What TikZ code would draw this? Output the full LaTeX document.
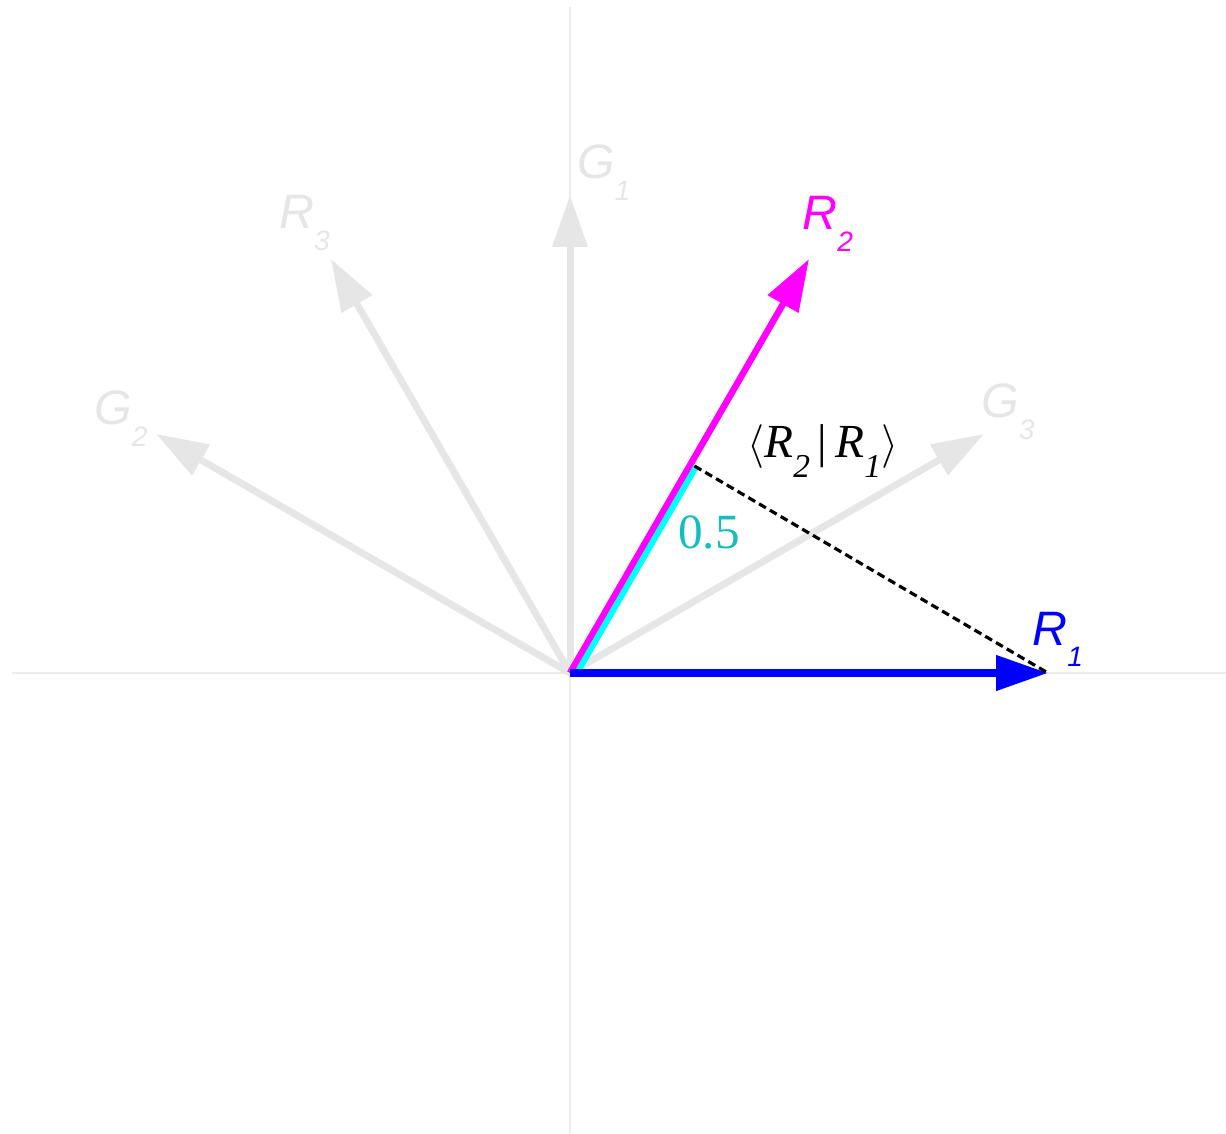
\documentclass[tikz,border=0pt]{standalone}
\usepackage{fontspec}
\setmainfont{Liberation Serif}
\newfontfamily\vecfont{Liberation Sans}
\usepackage{tikz}
\usetikzlibrary{arrows.meta,positioning,calc}

\definecolor{vgray}{RGB}{230,230,230}
\definecolor{axgray}{RGB}{236,236,236}
\definecolor{halfcol}{RGB}{20,190,190}
\definecolor{vmag}{RGB}{255,0,255}
\definecolor{vcyan}{RGB}{0,255,255}
\definecolor{vblue}{RGB}{0,0,255}

% vector label: italic letter with a low subscript
\newcommand{\veclab}[2]{{\vecfont\itshape\fontsize{27.5}{30}\selectfont #1\raisebox{-12pt}{\fontsize{16}{16}\selectfont #2}}}
\newcommand{\innersub}[1]{\raisebox{-11pt}{\fontsize{19}{19}\selectfont\itshape #1}}

\tikzset{
  vec/.style={line width=0.14cm,-{Triangle[length=1.04cm,width=0.68cm]}},
  vlab/.style={anchor=base west,inner sep=0pt}
}

\begin{document}
\begin{tikzpicture}
\useasboundingbox (-11.4,-9.2) rectangle (13.12,13.46);
% Axes
\draw[axgray,line width=0.6pt] (-11.16,0) -- (13.12,0);
\draw[axgray,line width=0.6pt] (0,-9.2) -- (0,13.32);
% Vector tips
\coordinate (O) at (0,0);
\coordinate (R1) at (0:9.56);
\coordinate (G3) at (30:9.56);
\coordinate (R2) at (60:9.56);
\coordinate (G1) at (90:9.56);
\coordinate (R3) at (120:9.56);
\coordinate (G2) at (150:9.56);
\coordinate (P) at (60:4.78);
% Gray vectors
\foreach \v in {G1,G2,G3,R3}
  \draw[vec,vgray] (O) -- (\v);
% R2 and its half
\draw[vec,vmag,line width=0.13cm] (O) -- (R2);
\draw[vcyan,line width=0.12cm] ([xshift=0.14cm]O) -- ([xshift=0.14cm]P);
% R1
\draw[vec,vblue,line width=0.15cm] (O) -- (R1);
% Projection
\draw[black,line width=1.8pt,dash pattern=on 4.5pt off 2.6pt] ([xshift=0.1cm]P) -- (R1);
% Labels
\node[vlab,text=vgray] (labG1) at (0.14,9.88) {\veclab{G}{1}};
\node[vlab,text=vgray] (labR3) at (-5.82,8.88) {\veclab{R}{3}};
\node[vlab,text=vgray] (labG2) at (-9.52,4.96) {\veclab{G}{2}};
\node[vlab,text=vgray] (labG3) at (8.22,5.1) {\veclab{G}{3}};
\node[vlab,text=vmag] (labR2) at (4.64,8.86) {\veclab{R}{2}};
\node[vlab,text=vblue] (labR1) at (9.24,0.56) {\veclab{R}{1}};
\node[vlab] (labIP) at (3.54,4.3)
  {\fontsize{27}{30}\selectfont$\langle$\textit{R}\innersub{2}\,|\,\textit{R}\innersub{1}$\rangle$};
\node[vlab,text=halfcol] (labhalf) at (2.16,2.5) {\fontsize{28}{30}\selectfont 0.5};
\end{tikzpicture}
\end{document}
